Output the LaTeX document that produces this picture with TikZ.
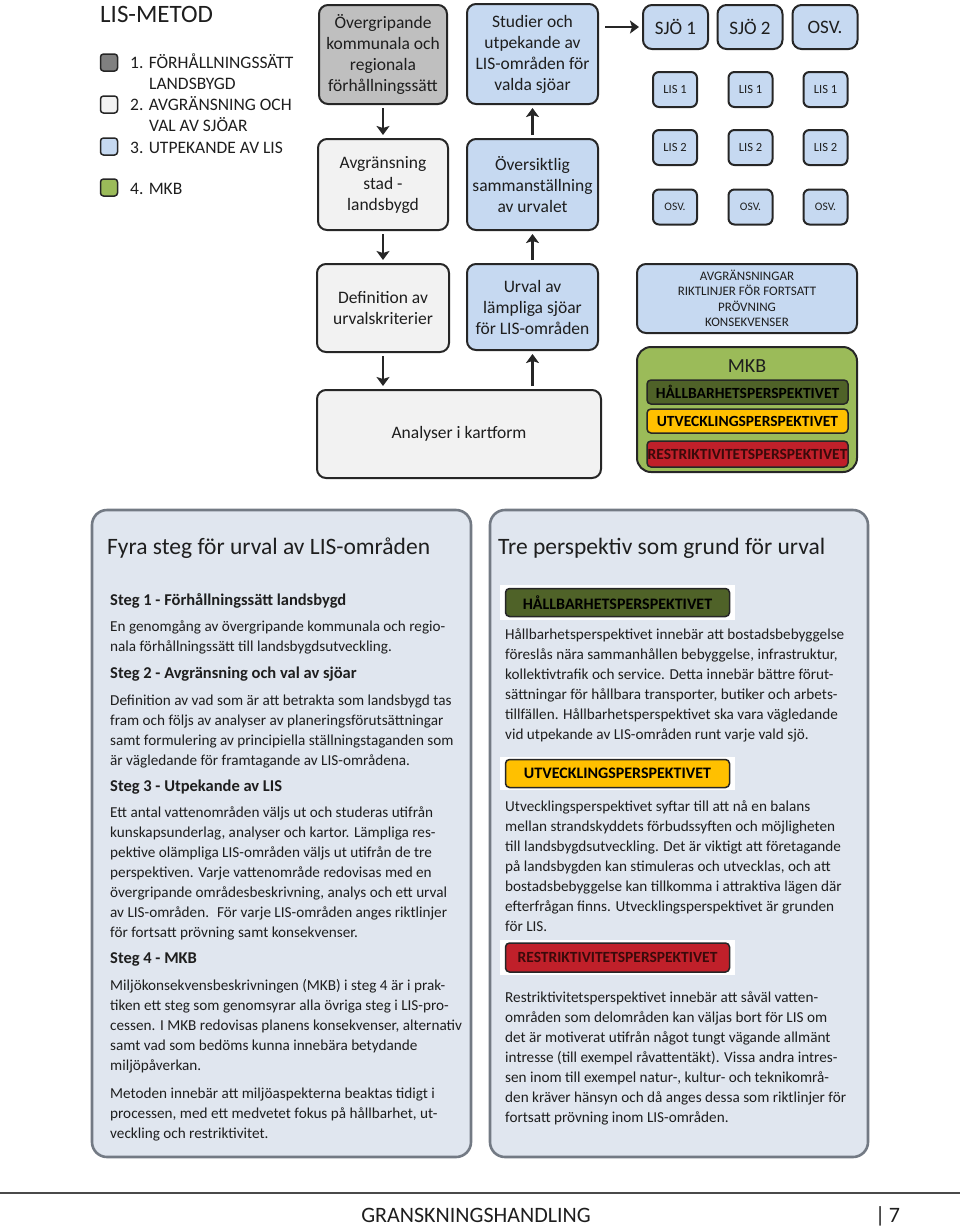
\documentclass[tikz,border=0pt]{standalone}
\usepackage{fontspec}
\setmainfont{Carlito}
\usetikzlibrary{arrows.meta,positioning}
\definecolor{boxD}{HTML}{262626}
\definecolor{txtC}{HTML}{1E1E1E}
\definecolor{greyF}{HTML}{BFBFBF}
\definecolor{legG}{HTML}{808080}
\definecolor{lightF}{HTML}{F2F2F2}
\definecolor{blueF}{HTML}{C6D9F1}
\definecolor{mkbF}{HTML}{9BBB59}
\definecolor{hallF}{HTML}{4F6228}
\definecolor{utvF}{HTML}{FFC000}
\definecolor{resF}{HTML}{C0202A}
\definecolor{resT}{HTML}{3A0A0A}
\definecolor{panF}{HTML}{E0E6EF}
\definecolor{panD}{HTML}{737A84}
\definecolor{footC}{HTML}{4A4A4A}
\newcommand\fs[2]{\fontsize{#1}{#2}\selectfont}
\tikzset{
  flow/.style={rounded corners=9pt, draw=boxD, line width=2pt, align=center, inner sep=2pt,
               text=txtC, font=\fs{17.5}{21}},
  grey/.style={flow, fill=greyF},
  light/.style={flow, fill=lightF},
  blue/.style={flow, fill=blueF},
  sjo/.style={blue, minimum width=65pt, minimum height=44pt, font=\fs{19}{21}},
  lis/.style={blue, rounded corners=6pt, minimum width=44pt, minimum height=35pt, font=\fs{12.5}{14}},
  bar/.style={draw=boxD, line width=1.5pt, rounded corners=4pt, inner sep=0pt, font=\fs{15.5}{17}\bfseries},
  wbg/.style={fill=white, inner sep=0pt},
  arr/.style={-{Stealth[length=9pt,width=13pt,inset=2pt]}, draw=boxD, line width=2.8pt,
              shorten <=3pt, shorten >=3pt},
  legsq/.style={draw=boxD, line width=1.5pt, rounded corners=3pt, minimum size=17pt, inner sep=0pt},
  leg/.style={anchor=base west, inner sep=0pt, align=left, text=txtC, font=\fs{17.5}{21}},
  panel/.style={draw=panD, fill=panF, line width=2.6pt, rounded corners=15pt},
  ptitle/.style={anchor=base west, inner sep=0pt, text=txtC, font=\fs{23.5}{26}},
  hd/.style={anchor=base west, inner sep=0pt, text=txtC, font=\fs{16.5}{20}\bfseries},
  % multi-line text: placed at the baseline of its last line
  txt/.style={anchor=base west, align=left, inner sep=0pt, text=txtC, font=\fs{15.2}{20}},
}

\begin{document}
\begin{tikzpicture}[x=1pt,y=-1pt]
\useasboundingbox (0,0) rectangle (960,1227);

% legend
\node[anchor=base west, inner sep=0pt, text=txtC, font=\fs{25}{28}] (metod) at (100,22) {LIS-METOD};
\node[legsq, fill=legG] (lg1) at (109,62.5) {};
\node[legsq, fill=lightF] (lg2) at (109,104.5) {};
\node[legsq, fill=blueF] (lg3) at (109,146.5) {};
\node[legsq, fill=mkbF] (lg4) at (109,187.5) {};
\node[leg] (lt1) at (130,89) {1. FÖRHÅLLNINGSSÄTT\\\hspace*{19pt}LANDSBYGD};
\node[leg] (lt2) at (130,131) {2. AVGRÄNSNING OCH\\\hspace*{19pt}VAL AV SJÖAR};
\node[leg] (lt3) at (130,153) {3. UTPEKANDE AV LIS};
\node[leg] (lt4) at (130,194) {4. MKB};

% flow
\node[grey, minimum width=128pt, minimum height=99pt] (overgr) at (383,54.5) {Övergripande\\kommunala och\\regionala\\förhållningssätt};
\node[light, minimum width=130pt, minimum height=91pt] (avgr) at (383,184.5) {Avgränsning\\stad -\\landsbygd};
\node[light, minimum width=132pt, minimum height=88pt] (definition) at (383,308) {Definition av\\urvalskriterier};
\node[light, minimum width=284pt, minimum height=88pt] (analys) at (459,434) {Analyser i kartform};
\node[blue, minimum width=131pt, minimum height=86pt] (urval) at (532.5,307) {Urval av\\lämpliga sjöar\\för LIS-områden};
\node[blue, minimum width=131pt, minimum height=91pt] (oversikt) at (532.5,184.5) {Översiktlig\\sammanställning\\av urvalet};
\node[blue, minimum width=131pt, minimum height=100pt] (studier) at (532.5,54) {Studier och\\utpekande av\\LIS-områden för\\valda sjöar};

\draw[arr] (overgr.south) -- (avgr.north);
\draw[arr] (avgr.south) -- (definition.north);
\draw[arr] (definition.south) -- (definition.south |- analys.north);
\draw[arr] (analys.north -| urval.south) -- (urval.south);
\draw[arr] (urval.north) -- (oversikt.south);
\draw[arr] (oversikt.north) -- (studier.south);

% lakes
\node[sjo] (sjo1) at (675.5,27) {SJÖ 1};
\node[sjo] (sjo2) at (750,27) {SJÖ 2};
\node[sjo] (sjo3) at (825,27) {OSV.};
\draw[arr, shorten <=6pt] (studier.east |- sjo1.west) -- (sjo1.west);
\foreach \c/\x in {a/675,b/750.5,c/825.5} {
  \node[lis] (lis1\c) at (\x,89.5) {LIS 1};
  \node[lis] (lis2\c) at (\x,147.5) {LIS 2};
  \node[lis, font=\fs{11.5}{13}] (lis3\c) at (\x,207) {OSV.};
}

% results and MKB
\node[blue, minimum width=220pt, minimum height=69pt, font=\fs{13}{15.5}] (riktl) at (747,298.5) {AVGRÄNSNINGAR\\RIKTLINJER FÖR FORTSATT\\PRÖVNING\\KONSEKVENSER};
\node[flow, fill=mkbF, rounded corners=14pt, minimum width=220pt, minimum height=125pt] (mkb) at (747,409.5) {};
\node[inner sep=0pt, text=txtC, font=\fs{20}{22}] (mkbt) at (747,366) {MKB};
\node[bar, fill=hallF, minimum width=201pt, minimum height=24pt] (mhall) at (747.5,392) {HÅLLBARHETSPERSPEKTIVET};
\node[bar, fill=utvF, minimum width=201pt, minimum height=24pt] (mutv) at (747.5,421) {UTVECKLINGSPERSPEKTIVET};
\node[bar, fill=resF, text=resT, minimum width=201pt, minimum height=26pt] (mres) at (747.5,454) {RESTRIKTIVITETSPERSPEKTIVET};

% left panel
\node[panel, minimum width=379pt, minimum height=647pt] (fyra) at (281.5,833.5) {};
\node[ptitle] (fyrat) at (107,554) {Fyra steg för urval av LIS-områden};
\node[hd] (steg1) at (110,605) {Steg 1 - Förhållningssätt landsbygd};
\node[txt] (steg1t) at (110,651) {En genomgång av övergripande kommunala och regio-\\nala förhållningssätt till landsbygdsutveckling.};
\node[hd] (steg2) at (110,678) {Steg 2 - Avgränsning och val av sjöar};
\node[txt] (steg2t) at (110,765) {Definition av vad som är att betrakta som landsbygd tas\\fram och följs av analyser av planeringsförutsättningar\\samt formulering av principiella ställningstaganden som\\är vägledande för framtagande av LIS-områdena.};
\node[hd] (steg3) at (110,791) {Steg 3 - Utpekande av LIS};
\node[txt] (steg3t) at (110,937) {Ett antal vattenområden väljs ut och studeras utifrån\\kunskapsunderlag, analyser och kartor. Lämpliga res-\\pektive olämpliga LIS-områden väljs ut utifrån de tre\\perspektiven. Varje vattenområde redovisas med en\\övergripande områdesbeskrivning, analys och ett urval\\av LIS-områden.~ För varje LIS-områden anges riktlinjer\\för fortsatt prövning samt konsekvenser.};
\node[hd] (steg4) at (110,963) {Steg 4 - MKB};
\node[txt] (steg4t) at (110,1070) {Miljökonsekvensbeskrivningen (MKB) i steg 4 är i prak-\\tiken ett steg som genomsyrar alla övriga steg i LIS-pro-\\cessen. I MKB redovisas planens konsekvenser, alternativ\\samt vad som bedöms kunna innebära betydande\\miljöpåverkan.};
\node[txt] (metoden) at (110,1138) {Metoden innebär att miljöaspekterna beaktas tidigt i\\processen, med ett medvetet fokus på hållbarhet, ut-\\veckling och restriktivitet.};

% right panel
\node[panel, minimum width=378pt, minimum height=647pt] (tre) at (679,833.5) {};
\node[ptitle] (tret) at (498,554) {Tre perspektiv som grund för urval};
\node[wbg, minimum width=235pt, minimum height=35pt] (hallw) at (617.5,602.5) {};
\node[bar, fill=hallF, minimum width=224pt, minimum height=28pt, font=\fs{16}{17}\bfseries] (hallb) at (hallw) {HÅLLBARHETSPERSPEKTIVET};
\node[txt] (hallt) at (505,739) {Hållbarhetsperspektivet innebär att bostadsbebyggelse\\föreslås nära sammanhållen bebyggelse, infrastruktur,\\kollektivtrafik och service. Detta innebär bättre förut-\\sättningar för hållbara transporter, butiker och arbets-\\tillfällen. Hållbarhetsperspektivet ska vara vägledande\\vid utpekande av LIS-områden runt varje vald sjö.};
\node[wbg, minimum width=235pt, minimum height=33pt] (utvw) at (617.5,773.5) {};
\node[bar, fill=utvF, minimum width=224pt, minimum height=28pt, font=\fs{16}{17}\bfseries] (utvb) at (utvw) {UTVECKLINGSPERSPEKTIVET};
\node[txt] (utvt) at (505,931) {Utvecklingsperspektivet syftar till att nå en balans\\mellan strandskyddets förbudssyften och möjligheten\\till landsbygdsutveckling. Det är viktigt att företagande\\på landsbygden kan stimuleras och utvecklas, och att\\bostadsbebyggelse kan tillkomma i attraktiva lägen där\\efterfrågan finns. Utvecklingsperspektivet är grunden\\för LIS.};
\node[wbg, minimum width=235pt, minimum height=35pt] (resw) at (617.5,957.5) {};
\node[bar, fill=resF, text=resT, minimum width=224pt, minimum height=29pt] (resb) at (resw) {RESTRIKTIVITETSPERSPEKTIVET};
\node[txt] (rest) at (505,1122) {Restriktivitetsperspektivet innebär att såväl vatten-\\områden som delområden kan väljas bort för LIS om\\det är motiverat utifrån något tungt vägande allmänt\\intresse (till exempel råvattentäkt). Vissa andra intres-\\sen inom till exempel natur-, kultur- och teknikområ-\\den kräver hänsyn och då anges dessa som riktlinjer för\\fortsatt prövning inom LIS-områden.};

% footer
\draw[footC, line width=2.5pt] (0,1193) -- (960,1193);
\node[anchor=base, inner sep=0pt, text=txtC, font=\fs{22}{24}] (footer) at (476,1222) {GRANSKNINGSHANDLING};
\node[anchor=base west, inner sep=0pt, text=txtC, font=\fs{22}{24}] (pagenr) at (875,1222) {|\,7};
\end{tikzpicture}
\end{document}
